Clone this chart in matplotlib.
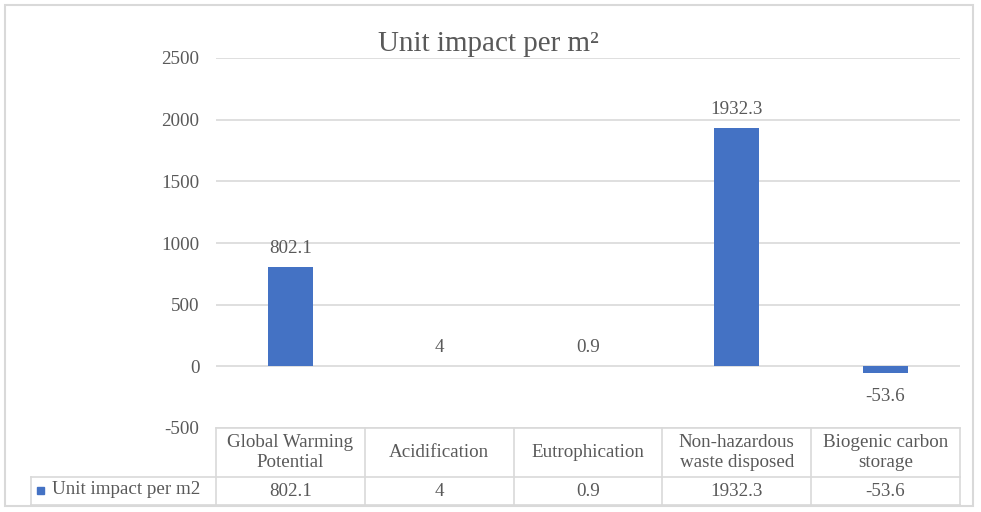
import matplotlib.pyplot as plt
import numpy as np
from matplotlib.patches import Rectangle
from matplotlib.lines import Line2D

# Data
categories = ["Global Warming\nPotential", "Acidification", "Eutrophication",
              "Non-hazardous\nwaste disposed", "Biogenic carbon\nstorage"]
values = [802.1, 4, 0.9, 1932.3, -53.6]
value_labels = ["802.1", "4", "0.9", "1932.3", "-53.6"]
series_name = "Unit impact per m2"
y_ticks = [-500, 0, 500, 1000, 1500, 2000, 2500]

plt.rcParams['font.family'] = ['Liberation Serif', 'DejaVu Serif']
text_color = '#595959'
grid_color = '#d9d9d9'
bar_color = '#4472C4'
fs = 13.7

W, H = 981, 512
fig = plt.figure(figsize=(W / 100, H / 100), dpi=100)
ax = fig.add_axes([216 / W, 1 - 428 / H, (960 - 216) / W, (428 - 58) / H])

x = np.arange(len(values))
ax.bar(x, values, width=0.3, color=bar_color, zorder=3)
ax.set_xlim(-0.5, len(values) - 0.5)
ax.set_ylim(y_ticks[0], y_ticks[-1])
ax.set_yticks(y_ticks)
ax.set_yticklabels([str(t) for t in y_ticks])
ax.tick_params(axis='y', length=0, pad=12, labelsize=fs, labelcolor=text_color)
ax.set_xticks([])
for s in ax.spines.values():
    s.set_visible(False)
ax.grid(axis='y', color=grid_color, linewidth=1.2, zorder=0)
ax.set_facecolor('none')

# data labels
for i, (v, lab) in enumerate(zip(values, value_labels)):
    off = 13.5 if v >= 0 else -17
    ax.annotate(lab, (i, v), xytext=(0, off), textcoords='offset points',
                ha='center', va='center', fontsize=fs, color=text_color)

# data table under the plot (axes coordinates)
n = len(values)
edges = np.arange(n + 1) / n
y_top, y_mid, y_bot = 0.0, -49 / 370, -77 / 370
x_leg = (31 - 216) / 744
lkw = dict(color=grid_color, linewidth=1.2, transform=ax.transAxes, clip_on=False)
ax.add_line(Line2D([0, 1], [y_top, y_top], **lkw))
ax.add_line(Line2D([x_leg, 1], [y_mid, y_mid], **lkw))
ax.add_line(Line2D([x_leg, 1], [y_bot, y_bot], **lkw))
ax.add_line(Line2D([x_leg, x_leg], [y_mid, y_bot], **lkw))
for e in edges:
    ax.add_line(Line2D([e, e], [y_top, y_bot], **lkw))

for i in range(n):
    cx = (edges[i] + edges[i + 1]) / 2
    ax.text(cx, (y_top + y_mid) / 2, categories[i], transform=ax.transAxes,
            ha='center', va='center', fontsize=fs, color=text_color,
            linespacing=1.3)
    ax.text(cx, (y_mid + y_bot) / 2, value_labels[i], transform=ax.transAxes,
            ha='center', va='center', fontsize=fs, color=text_color)

# legend key inside the table
fig.add_artist(Rectangle((37 / W, 1 - 494 / H), 7 / W, 7 / H,
                         transform=fig.transFigure, color=bar_color))
fig.text(52 / W, 1 - 490 / H, series_name, ha='left', va='center',
         fontsize=fs, color=text_color)

# title
fig.text(488 / W, 1 - 44 / H, "Unit impact per m\u00b2", ha='center', va='center',
         fontsize=21, color=text_color)

# chart border
fig.add_artist(Rectangle((5 / W, 1 - 506 / H), (973 - 5) / W, (506 - 5) / H,
                         transform=fig.transFigure, fill=False,
                         edgecolor=grid_color, linewidth=1.5))

plt.savefig("out.png", dpi=100)
